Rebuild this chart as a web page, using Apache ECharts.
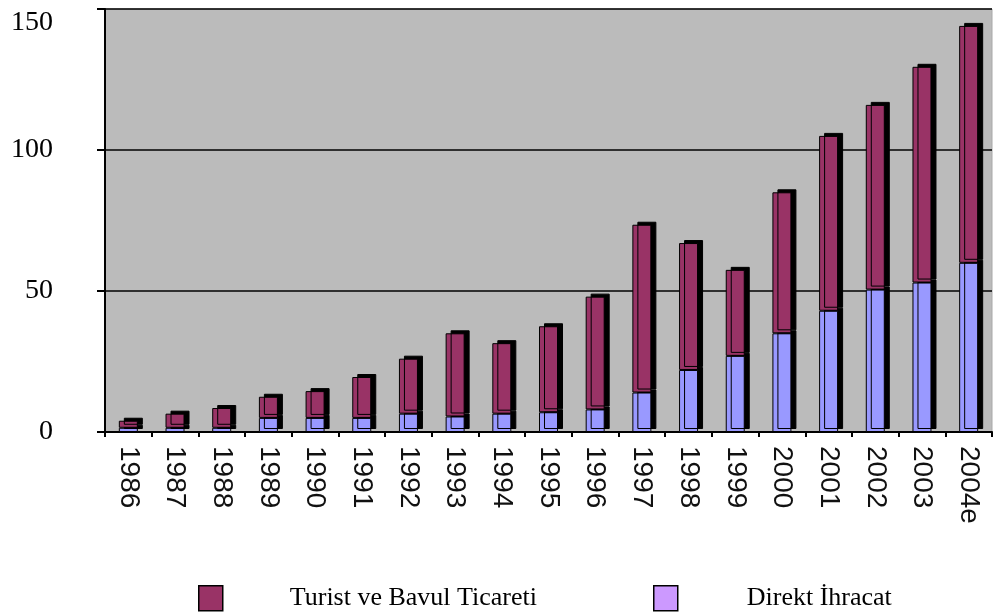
<!DOCTYPE html>
<html>
<head>
<meta charset="utf-8">
<script src="https://cdn.jsdelivr.net/npm/echarts@6/dist/echarts.min.js"></script>
<style>
html,body{margin:0;padding:0;background:#fff;}
#main{width:1000px;height:615px;}
</style>
</head>
<body>
<div id="main"></div>
<script>
var categories = ['1986','1987','1988','1989','1990','1991','1992','1993','1994','1995','1996','1997','1998','1999','2000','2001','2002','2003','2004e'];
var direktIhracat = [1.5,1.5,1.5,5,5,5,6.5,5.5,6.5,7,8,14,22,27,35,43,50.5,53,60];
var turistBavul = [2.5,5,7,7.5,9.5,14.5,19.5,29.5,25,30.5,40,59.5,45,30.5,50,62,65.5,76.5,84];
var yTicks = {min:0, max:150, interval:50};
var seriesNames = ['Turist ve Bavul Ticareti','Direkt İhracat'];

var chart = echarts.init(document.getElementById('main'));
var barStyle = function(color){
  return {color: color, borderColor:'#000', borderWidth:1,
    shadowColor:'#000', shadowBlur:0, shadowOffsetX:5, shadowOffsetY:-3};
};
var noShadow = {shadowColor:'rgba(0,0,0,0)', shadowBlur:0, shadowOffsetX:0, shadowOffsetY:0, borderColor:'#000', borderWidth:1.5};
chart.setOption({
  animation:false,
  backgroundColor:'#fff',
  grid:{left:105, right:8, top:9, bottom:183, show:true, backgroundColor:'#bbbbbb', borderWidth:1, borderColor:'#a8a8a8'},
  legend:[
    {left:193, top:580, itemWidth:24, itemHeight:25, icon:'rect',
     data:[{name:seriesNames[0], itemStyle:Object.assign({color:'#993366'}, noShadow)}],
     textStyle:{fontFamily:'Liberation Serif', fontSize:26, color:'#000', padding:[7,0,0,62]}},
    {left:648, top:580, itemWidth:24, itemHeight:25, icon:'rect',
     data:[{name:seriesNames[1], itemStyle:Object.assign({color:'#cc99ff'}, noShadow)}],
     textStyle:{fontFamily:'Liberation Serif', fontSize:26, color:'#000', padding:[7,0,0,64]}}
  ],
  xAxis:{
    type:'category', data:categories,
    axisLine:{show:true, lineStyle:{color:'#000', width:2}},
    axisTick:{show:true, length:5, lineStyle:{color:'#000', width:2}},
    axisLabel:{rotate:-90, margin:14, fontFamily:'Liberation Sans', fontSize:28, color:'#111', interval:0}
  },
  yAxis:{
    type:'value', min:yTicks.min, max:yTicks.max, interval:yTicks.interval,
    axisLine:{show:true, lineStyle:{color:'#000', width:2}},
    axisTick:{show:true, length:8, lineStyle:{color:'#000', width:2}},
    splitLine:{show:true, lineStyle:{color:'#000', width:1.5}},
    axisLabel:{margin:52, fontFamily:'Liberation Serif', fontSize:28, color:'#000', verticalAlignMaxLabel:'top', padding:[0,0,8,0]}
  },
  series:[
    {name:seriesNames[1], type:'bar', stack:'t', data:direktIhracat, barWidth:19, itemStyle:barStyle('#9999ff')},
    {name:seriesNames[0], type:'bar', stack:'t', data:turistBavul, barWidth:19, itemStyle:barStyle('#993366')}
  ]
});
</script>
</body>
</html>
